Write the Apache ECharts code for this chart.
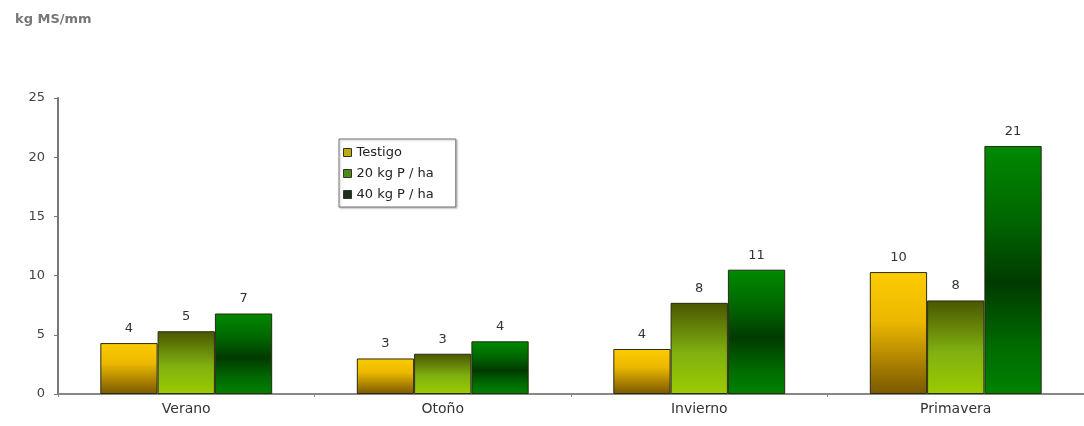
<!DOCTYPE html>
<html>
<head>
<meta charset="utf-8">
<script src="https://cdn.jsdelivr.net/npm/echarts@6/dist/echarts.min.js"></script>
<style>
  html, body { margin: 0; padding: 0; background: #fff; }
  #chart { width: 1084px; height: 426px; }
</style>
</head>
<body>
<div id="chart"></div>
<script>
// Estaciones y producción de forraje por mm de lluvia
var categories = ['Verano', 'Otoño', 'Invierno', 'Primavera'];
var seriesNames = ['Testigo', '20 kg P / ha', '40 kg P / ha'];
var testigo = [4.3, 3.0, 3.8, 10.3];
var p20 = [5.3, 3.4, 7.7, 7.9];
var p40 = [6.8, 4.45, 10.5, 20.95];
var yTicks = [0, 5, 10, 15, 20, 25];

function vgrad(stops) {
  return new echarts.graphic.LinearGradient(0, 0, 0, 1, stops.map(function (s) {
    return { offset: s[0], color: s[1] };
  }));
}

var fills = [
  vgrad([[0, '#fccc00'], [0.4, '#ecb800'], [1, '#7a5800']]),
  vgrad([[0, '#4a5600'], [0.55, '#80b010'], [1, '#9ccc00']]),
  vgrad([[0, '#008a00'], [0.3, '#006600'], [0.55, '#003a00'], [0.8, '#006a00'], [1, '#008200']])
];
var legendIcons = ['#c0ac00', '#4c8a10', '#1e2e1e'];

function labelText(p) { return String(Math.round(p.value + 1e-9)); }

var values = [testigo, p20, p40];
var series = values.map(function (arr, i) {
  return {
    name: seriesNames[i],
    type: 'bar',
    data: arr,
    barGap: '0%',
    barCategoryGap: '33%',
    itemStyle: { color: fills[i], borderColor: '#2a2a10', borderWidth: 1 },
    label: {
      show: true, position: 'top', distance: 8,
      formatter: labelText,
      color: '#333', fontFamily: 'DejaVu Sans', fontSize: 13
    }
  };
});

var chart = echarts.init(document.getElementById('chart'), null, { renderer: 'canvas' });
chart.setOption({
  animation: false,
  backgroundColor: '#fff',
  title: {
    text: 'kg MS/mm', left: 10, top: 8,
    textStyle: { fontFamily: 'DejaVu Sans', fontSize: 13, fontWeight: 'bold', color: '#777' }
  },
  legend: {
    orient: 'vertical', left: 339, top: 139,
    padding: [7, 22, 6, 4], itemGap: 8,
    itemWidth: 8, itemHeight: 8,
    backgroundColor: '#fff', borderColor: '#777', borderWidth: 1,
    shadowColor: 'rgba(0,0,0,0.25)', shadowBlur: 2, shadowOffsetX: 1, shadowOffsetY: 1,
    textStyle: { fontFamily: 'DejaVu Sans', fontSize: 13, color: '#222' },
    data: seriesNames.map(function (n, i) {
      return { name: n, icon: 'rect', itemStyle: { color: legendIcons[i], borderColor: '#333', borderWidth: 1 } };
    })
  },
  grid: { left: 58, right: 0, top: 98, bottom: 32, containLabel: false },
  xAxis: {
    type: 'category', data: categories,
    axisLine: { lineStyle: { color: '#888', width: 2 } },
    axisTick: { show: true, alignWithLabel: false, length: 3, lineStyle: { color: '#888' } },
    axisLabel: { fontFamily: 'DejaVu Sans', fontSize: 14, color: '#333', margin: 8 }
  },
  yAxis: {
    type: 'value', min: 0, max: 25, interval: 5,
    axisLine: { show: true, lineStyle: { color: '#777', width: 2 } },
    axisTick: { show: true, length: 4, lineStyle: { color: '#777' } },
    splitLine: { show: false },
    axisLabel: {
      fontFamily: 'DejaVu Sans', fontSize: 13, color: '#444', margin: 13,
      formatter: function (v) { return yTicks.indexOf(v) >= 0 ? String(v) : ''; }
    }
  },
  series: series
});
</script>
</body>
</html>
